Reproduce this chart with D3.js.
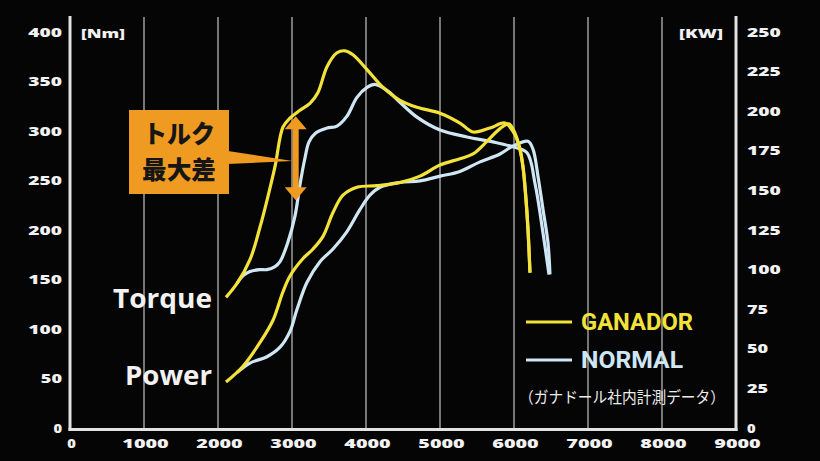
<!DOCTYPE html>
<html><head><meta charset="utf-8">
<script src="https://cdn.jsdelivr.net/npm/d3@7"></script>
<style>
html,body{margin:0;padding:0;background:#050505;}
svg{display:block;}
</style></head>
<body>
<svg id="chart" width="820" height="461"></svg>
<script>
// ---- data ----
const rpmTicks = [0,1000,2000,3000,4000,5000,6000,7000,8000,9000];
const torqueTicks = [0,50,100,150,200,250,300,350,400];
const powerTicks = [0,25,50,75,100,125,150,175,200,225,250];
const seriesNames = ["GANADOR","NORMAL"];
// [rpm, Nm]
const ganadorTorque = [[2108,132],[2257,146],[2432,170],[2568,203],[2662,230],[2770,264],[2878,304],[2973,313],[3108,321],[3243,328],[3351,339],[3473,365],[3608,379],[3716,381],[3824,377],[4014,362],[4230,344],[4459,331],[4689,324],[5000,318],[5270,308],[5446,299],[5676,303],[5878,308],[6014,296],[6081,281],[6122,263],[6162,230],[6189,200],[6216,157]];
const normalTorque = [[2257,146],[2340,154],[2432,158],[2560,160],[2662,160],[2770,163],[2838,168],[2946,188],[3040,214],[3108,246],[3176,273],[3230,289],[3320,298],[3473,303],[3608,305],[3743,315],[3878,334],[4014,344],[4122,347],[4284,341],[4459,329],[4689,314],[5000,301],[5365,294],[5716,289],[5986,284],[6176,278],[6284,247],[6392,197],[6473,155]];
// [rpm, kW]
const ganadorPower = [[2108,29],[2338,39],[2568,54],[2743,68],[2878,86],[2973,96],[3149,107],[3284,113],[3419,121],[3554,136],[3689,147],[3878,152],[4149,153],[4459,155],[4730,159],[5000,166],[5270,170],[5446,173],[5635,181],[5811,189],[5930,192],[6014,186],[6081,176],[6122,165],[6162,145],[6189,126],[6216,98]];
const normalPower = [[2257,35],[2432,41],[2662,45],[2838,51],[2973,61],[3068,75],[3203,92],[3378,105],[3554,113],[3743,124],[3919,138],[4054,147],[4189,152],[4459,155],[4730,156],[5000,159],[5270,162],[5541,168],[5811,173],[5986,178],[6189,181],[6257,176],[6324,159],[6392,138],[6459,117],[6486,97]];
// annotation: max torque difference
const diffRpm = 3050, diffTop = 315, diffBottom = 230;

// ---- layout ----
const svg = d3.select("#chart");
svg.append("rect").attr("width",820).attr("height",461).attr("fill","#050505");
const x = d3.scaleLinear().domain([0,9000]).range([70,736]);
const yT = d3.scaleLinear().domain([0,400]).range([428,32]);
const yP = d3.scaleLinear().domain([0,250]).range([428,32]);
const colY = "#f3e23a", colB = "#cfe6f4";
const numFont = "'Open Sans','DejaVu Sans',sans-serif";

// gridlines
svg.append("g").selectAll("line").data(rpmTicks.filter(d=>d>0&&d<9000)).join("line")
  .attr("x1",d=>x(d)).attr("x2",d=>x(d)).attr("y1",17).attr("y2",428)
  .attr("stroke","#b5b5b5").attr("stroke-width",1.3);

// axis lines
const ax = svg.append("g").attr("stroke","#e2e2e2").attr("stroke-width",3);
ax.append("line").attr("x1",x(0)).attr("x2",x(0)).attr("y1",16).attr("y2",431);
ax.append("line").attr("x1",x(9000)).attr("x2",x(9000)).attr("y1",16).attr("y2",431);
ax.append("line").attr("x1",x(0)-1.5).attr("x2",x(9000)+1.5).attr("y1",429.5).attr("y2",429.5);

const pitch = 12.6;
function tl(s){ return s.length*pitch - 4; }
function ticks(g, data, fx, fy, anchor){
  g.selectAll("text").data(data).join("text")
    .attr("x",fx).attr("y",fy).attr("dy","0.36em")
    .attr("text-anchor",anchor).attr("fill","#f2f2f2")
    .attr("font-family",numFont).attr("font-weight",800).attr("font-size",12.5)
    .attr("textLength",d=>tl(String(d))).attr("lengthAdjust","spacingAndGlyphs")
    .text(d=>d);
}
ticks(svg.append("g"), torqueTicks, 62, d=>yT(d), "end");
ticks(svg.append("g"), powerTicks, 747, d=>yP(d), "start");
ticks(svg.append("g"), rpmTicks, d=>x(d)+1.5, 443, "middle");
// units
svg.append("text").attr("x",81).attr("y",33).attr("dy","0.36em").attr("fill","#f2f2f2")
  .attr("font-family",numFont).attr("font-weight",800).attr("font-size",13)
  .attr("textLength",44).attr("lengthAdjust","spacingAndGlyphs").text("[Nm]");
svg.append("text").attr("x",679).attr("y",33).attr("dy","0.36em").attr("fill","#f2f2f2")
  .attr("font-family",numFont).attr("font-weight",800).attr("font-size",13)
  .attr("textLength",44).attr("lengthAdjust","spacingAndGlyphs").text("[KW]");

// curves
const lineT = d3.line().x(d=>x(d[0])).y(d=>yT(d[1])).curve(d3.curveCatmullRom.alpha(0.5));
const lineP = d3.line().x(d=>x(d[0])).y(d=>yP(d[1])).curve(d3.curveCatmullRom.alpha(0.5));
const curves = svg.append("g").attr("fill","none").attr("stroke-width",3.2);
curves.append("path").attr("d",lineP(normalPower)).attr("stroke",colB);
curves.append("path").attr("d",lineT(normalTorque)).attr("stroke",colB);
curves.append("path").attr("d",lineP(ganadorPower)).attr("stroke",colY);
curves.append("path").attr("d",lineT(ganadorTorque)).attr("stroke",colY);

// Torque / Power labels
const lab = svg.append("g").attr("fill","#f2f2f2").attr("font-family","'Open Sans',sans-serif")
  .attr("font-weight",700).attr("font-size",27).attr("text-anchor","end");
lab.append("text").attr("x",212).attr("y",308).attr("textLength",99).attr("lengthAdjust","spacingAndGlyphs").text("Torque");
lab.append("text").attr("x",212).attr("y",385).attr("textLength",87).attr("lengthAdjust","spacingAndGlyphs").text("Power");

// annotation
const orange = "#ef9a21";
const ann = svg.append("g");
const ax0 = x(diffRpm), yTop = yT(diffTop), yBot = yT(diffBottom);
ann.append("rect").attr("x",129).attr("y",110).attr("width",100).attr("height",84).attr("fill",orange);
ann.append("polygon").attr("points",`228,151 ${ax0-3},161 228,164`).attr("fill",orange);
ann.append("rect").attr("x",ax0-3).attr("y",yTop+10).attr("width",6).attr("height",yBot-yTop-20).attr("fill",orange);
ann.append("polygon").attr("points",`${ax0},${yTop} ${ax0-11},${yTop+13} ${ax0+11},${yTop+13}`).attr("fill",orange);
ann.append("polygon").attr("points",`${ax0},${yBot} ${ax0-11},${yBot-13} ${ax0+11},${yBot-13}`).attr("fill",orange);
const cjk = "'Noto Sans CJK JP','Noto Sans CJK SC',sans-serif";
ann.append("text").attr("x",179).attr("y",134).attr("dy","0.36em").attr("text-anchor","middle")
  .attr("font-family",cjk).attr("font-weight",900).attr("font-size",25).attr("fill","#161616")
  .attr("textLength",72).attr("lengthAdjust","spacingAndGlyphs").text("トルク");
ann.append("text").attr("x",179).attr("y",170).attr("dy","0.36em").attr("text-anchor","middle")
  .attr("font-family",cjk).attr("font-weight",900).attr("font-size",25).attr("fill","#161616")
  .attr("textLength",74).attr("lengthAdjust","spacingAndGlyphs").text("最大差");

// legend
const leg = svg.append("g");
const legY = [322,360];
const legCol = [colY, colB];
const legLen = [112,102];
seriesNames.forEach((n,i)=>{
  leg.append("line").attr("x1",526).attr("x2",572).attr("y1",legY[i]).attr("y2",legY[i])
    .attr("stroke",legCol[i]).attr("stroke-width",3.2);
  leg.append("text").attr("x",581).attr("y",legY[i]).attr("dy","0.36em").attr("fill",legCol[i])
    .attr("font-family","'Liberation Sans Narrow','Roboto','Open Sans',sans-serif")
    .attr("font-weight",700).attr("font-size",23)
    .attr("textLength",legLen[i]).attr("lengthAdjust","spacingAndGlyphs").text(n);
});
leg.append("text").attr("x",519).attr("y",397).attr("dy","0.36em").attr("fill","#ececec")
  .attr("font-family",cjk).attr("font-size",15.5)
  .attr("textLength",206).attr("lengthAdjust","spacingAndGlyphs").text("（ガナドール社内計測データ）");
</script>
</body></html>
